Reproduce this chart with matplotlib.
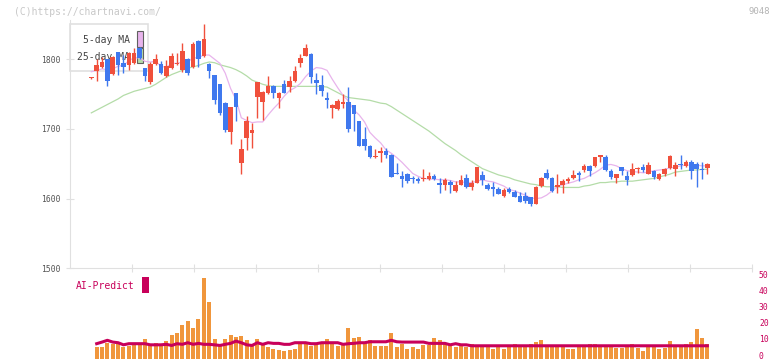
import matplotlib.pyplot as plt
from matplotlib.patches import Rectangle
from matplotlib.transforms import blended_transform_factory, ScaledTranslation
import numpy as np

# daily candles, 2/25 .. 8/13 (trading days)
opens = [1773, 1783, 1789, 1800, 1779, 1810, 1794, 1792, 1794, 1816,
         1787, 1767, 1793, 1793, 1776, 1787, 1793, 1784, 1800, 1789,
         1826, 1804, 1793, 1777, 1764, 1737, 1695, 1751, 1651, 1687,
         1694, 1746, 1739, 1752, 1762, 1745, 1764, 1760, 1769, 1795,
         1805, 1808, 1770, 1763, 1745, 1730, 1728, 1736, 1739, 1734,
         1711, 1686, 1676, 1659, 1666, 1668, 1663, 1637, 1632, 1636,
         1630, 1628, 1628, 1628, 1632, 1623, 1620, 1624, 1611, 1620,
         1630, 1616, 1623, 1634, 1619, 1617, 1614, 1604, 1614, 1610,
         1604, 1604, 1602, 1592, 1618, 1637, 1630, 1617, 1619, 1625,
         1629, 1637, 1641, 1647, 1647, 1659, 1659, 1640, 1629, 1645,
         1632, 1634, 1643, 1646, 1636, 1639, 1628, 1636, 1644, 1643,
         1649, 1647, 1653, 1650, 1643, 1644]
highs = [1774, 1800, 1803, 1801, 1804, 1811, 1806, 1810, 1816, 1818,
         1788, 1796, 1807, 1797, 1799, 1809, 1809, 1823, 1802, 1824,
         1827, 1850, 1794, 1778, 1765, 1738, 1732, 1752, 1685, 1718,
         1709, 1767, 1754, 1776, 1763, 1753, 1770, 1776, 1790, 1808,
         1822, 1809, 1780, 1778, 1753, 1736, 1743, 1750, 1760, 1735,
         1712, 1703, 1677, 1671, 1674, 1672, 1664, 1651, 1640, 1637,
         1633, 1631, 1642, 1638, 1636, 1629, 1629, 1626, 1625, 1634,
         1635, 1627, 1646, 1639, 1622, 1624, 1616, 1615, 1616, 1612,
         1609, 1609, 1603, 1618, 1631, 1642, 1631, 1635, 1628, 1631,
         1641, 1640, 1650, 1648, 1660, 1663, 1663, 1642, 1636, 1646,
         1639, 1651, 1645, 1649, 1652, 1641, 1637, 1644, 1662, 1652,
         1662, 1655, 1655, 1653, 1653, 1651]
lows = [1772, 1769, 1788, 1761, 1778, 1778, 1780, 1784, 1793, 1801,
        1769, 1765, 1792, 1779, 1775, 1786, 1792, 1782, 1778, 1788,
        1789, 1803, 1773, 1736, 1720, 1695, 1678, 1712, 1636, 1670,
        1672, 1715, 1713, 1750, 1745, 1730, 1751, 1753, 1768, 1789,
        1804, 1766, 1750, 1747, 1730, 1715, 1727, 1730, 1696, 1697,
        1675, 1670, 1658, 1658, 1653, 1658, 1631, 1635, 1617, 1622,
        1622, 1623, 1625, 1627, 1627, 1608, 1613, 1608, 1610, 1619,
        1615, 1612, 1622, 1620, 1613, 1604, 1606, 1602, 1608, 1602,
        1595, 1593, 1590, 1592, 1617, 1628, 1610, 1608, 1608, 1623,
        1628, 1625, 1638, 1633, 1646, 1652, 1640, 1628, 1623, 1634,
        1619, 1632, 1637, 1638, 1635, 1628, 1626, 1633, 1643, 1633,
        1643, 1645, 1628, 1617, 1628, 1636]
closes = [1773, 1791, 1796, 1769, 1803, 1791, 1789, 1809, 1809, 1802,
          1776, 1793, 1800, 1780, 1790, 1804, 1794, 1812, 1780, 1822,
          1800, 1829, 1783, 1742, 1723, 1698, 1731, 1731, 1671, 1712,
          1698, 1767, 1753, 1762, 1751, 1752, 1752, 1769, 1783, 1802,
          1816, 1774, 1766, 1755, 1741, 1734, 1740, 1739, 1700, 1721,
          1676, 1676, 1659, 1661, 1669, 1662, 1631, 1635, 1628, 1625,
          1628, 1625, 1630, 1632, 1628, 1619, 1626, 1620, 1620, 1627,
          1616, 1622, 1645, 1627, 1614, 1614, 1607, 1613, 1610, 1603,
          1595, 1596, 1592, 1617, 1630, 1629, 1611, 1619, 1625, 1628,
          1634, 1634, 1647, 1640, 1659, 1662, 1641, 1631, 1635, 1639,
          1627, 1643, 1644, 1641, 1648, 1631, 1636, 1643, 1661, 1648,
          1648, 1652, 1639, 1642, 1641, 1650]

ma5 = [1782, 1784, 1786, 1785, 1786, 1790, 1791, 1798, 1802, 1802,
       1797, 1796, 1797, 1790, 1788, 1794, 1794, 1796, 1796, 1802,
       1802, 1806, 1806, 1800, 1794, 1780, 1758, 1742, 1716, 1712,
       1709, 1710, 1710, 1720, 1729, 1737, 1747, 1755, 1759, 1765,
       1775, 1783, 1788, 1787, 1784, 1771, 1759, 1748, 1740, 1727,
       1720, 1710, 1695, 1687, 1680, 1670, 1665, 1659, 1652, 1644,
       1636, 1632, 1629, 1628, 1628, 1627, 1627, 1626, 1624, 1624,
       1623, 1623, 1625, 1627, 1625, 1624, 1621, 1618, 1613, 1611,
       1608, 1605, 1601, 1600, 1601, 1605, 1611, 1617, 1620, 1622,
       1624, 1627, 1629, 1633, 1637, 1642, 1648, 1649, 1647, 1643,
       1640, 1639, 1638, 1637, 1638, 1640, 1641, 1642, 1644, 1645,
       1647, 1648, 1648, 1648, 1647, 1647]
ma25 = [1723, 1727, 1731, 1735, 1739, 1743, 1748, 1751, 1754, 1756,
        1758, 1760, 1764, 1769, 1774, 1778, 1781, 1784, 1787, 1789,
        1791, 1794, 1796, 1795, 1792, 1790, 1788, 1785, 1781, 1776,
        1770, 1767, 1764, 1762, 1761, 1761, 1761, 1761, 1761, 1761,
        1761, 1761, 1761, 1761, 1760, 1756, 1752, 1748, 1745, 1744,
        1743, 1742, 1741, 1739, 1737, 1736, 1732, 1727, 1722, 1717,
        1712, 1707, 1702, 1697, 1691, 1685, 1679, 1674, 1669, 1663,
        1658, 1653, 1648, 1643, 1640, 1637, 1634, 1632, 1630, 1627,
        1625, 1623, 1621, 1620, 1618, 1617, 1617, 1617, 1616, 1616,
        1616, 1616, 1618, 1619, 1621, 1623, 1623, 1624, 1624, 1625,
        1625, 1625, 1626, 1627, 1628, 1629, 1631, 1633, 1635, 1638,
        1639, 1640, 1641, 1641, 1642, 1642]

# volume (first day has none)
volume = [np.nan, 7.1, 7.1, 9.8, 8.8, 9.8, 7.1, 7.7, 9.8, 8.8,
          11.9, 8.1, 9.8, 7.7, 10.8, 14.4, 15.6, 20.6, 23.1, 18.8,
          24.4, 50.0, 35.0, 11.9, 8.1, 11.9, 14.4, 13.1, 13.8, 11.3,
          8.1, 11.9, 8.8, 7.1, 5.6, 5.2, 4.4, 5.2, 5.6, 9.8,
          8.8, 7.7, 8.8, 9.8, 11.9, 9.8, 7.7, 8.8, 18.8, 12.5,
          13.1, 9.8, 11.3, 7.7, 7.7, 7.7, 15.6, 7.1, 9.3, 5.6,
          7.1, 5.6, 8.1, 8.1, 12.5, 11.3, 9.8, 8.1, 7.1, 7.7,
          7.1, 9.2, 7.7, 7.1, 7.1, 5.6, 7.1, 5.6, 7.7, 9.2,
          7.7, 7.1, 9.2, 10.2, 11.3, 7.7, 7.1, 7.1, 7.1, 5.6,
          5.6, 7.1, 7.7, 9.2, 9.2, 7.1, 7.1, 7.1, 6.3, 6.3,
          7.7, 9.2, 6.3, 4.4, 7.1, 7.1, 5.6, 6.3, 10.6, 7.7,
          7.1, 9.2, 10.2, 18.1, 12.5, 8.8]
ai_predict = [np.nan, 9.2, 10.2, 11.3, 10.2, 9.8, 8.5, 9.2, 9.2, 9.2,
              9.2, 8.5, 8.5, 8.5, 8.8, 8.1, 9.2, 8.8, 9.8, 8.8,
              9.4, 8.8, 8.8, 8.5, 8.1, 8.8, 9.4, 10.8, 9.8, 8.5,
              8.1, 9.8, 8.8, 9.8, 9.4, 9.4, 8.8, 8.8, 9.8, 9.8,
              9.8, 9.2, 9.2, 9.8, 9.8, 9.8, 9.8, 8.8, 9.2, 9.4,
              9.8, 9.8, 10.4, 10.4, 10.4, 10.4, 11.3, 10.4, 10.2, 10.2,
              10.2, 10.2, 10.2, 9.4, 9.4, 9.4, 9.4, 8.5, 9.2, 8.5,
              8.5, 7.9, 7.9, 7.9, 7.9, 7.9, 7.9, 7.9, 7.9, 7.9,
              7.9, 7.9, 7.9, 7.9, 7.9, 7.9, 7.9, 7.9, 7.9, 7.9,
              7.9, 7.9, 7.9, 7.9, 7.9, 7.9, 7.9, 7.9, 7.9, 7.9,
              7.9, 7.9, 7.9, 7.9, 7.9, 7.9, 7.9, 7.9, 7.9, 7.9,
              7.9, 7.9, 7.9, 7.9, 7.9, 7.9]

date_idx = [15, 25, 35, 45, 55, 65, 75, 85, 95, 105, 115]
date_labels = ['3/18', '4/2', '4/16', '5/1', '5/19', '6/2', '6/16',
               '6/30', '7/14', '7/29', '8/13']
price_ticks = [1500, 1600, 1700, 1800]
vol_ticks = [0, 10, 20, 30, 40, 50]

UP = '#f0503c'
DOWN = '#3f78ee'
GRID = '#e0e0e0'
CRIMSON = '#c8005a'
MONO = 'DejaVu Sans Mono'

W, H = 772, 361
fig = plt.figure(figsize=(W / 100, H / 100), dpi=100)


def fx(x):
    return x / W


def fy(y):
    return 1 - y / H


# main price panel
ax = fig.add_axes([fx(70), fy(268.3), fx(752) - fx(70), fy(20) - fy(268.3)])
xmin, xmax = -3.98, 123.33
ax.set_xlim(xmin, xmax)
ax.set_ylim(1500, 1500 + (268.3 - 20) / 0.697)
for s in ['top', 'right']:
    ax.spines[s].set_visible(False)
for s in ['left', 'bottom']:
    ax.spines[s].set_color(GRID)
ax.set_yticks(price_ticks)
ax.set_yticklabels([str(v) for v in price_ticks], fontsize=5.8, family=MONO,
                   color='#555555')
ax.tick_params(axis='y', direction='inout', length=6, color=GRID, pad=4)
ax.set_xticks([xmin + k * (xmax - xmin) / 11 for k in range(1, 12)])
ax.set_xticklabels([])
ax.tick_params(axis='x', direction='inout', length=6, color=GRID)

idx = np.arange(len(closes))
o = np.array(opens, float)
c = np.array(closes, float)
h = np.array(highs, float)
l = np.array(lows, float)
col = [UP if cc >= oo else DOWN for oo, cc in zip(o, c)]

ax.plot(idx, ma25, color='#b4dca8', lw=0.9, zorder=2)
ax.plot(idx, ma5, color='#e8b4ec', lw=0.9, zorder=2)
ax.vlines(idx, l, h, colors=col, lw=1.0, zorder=3)
body = np.maximum(np.abs(c - o), 1.3)
ax.bar(idx, body, bottom=np.minimum(o, c), width=0.85, color=col,
       lw=0, zorder=4)

# legend box (drawn under the candles)
ax.add_patch(Rectangle((fx(70), fy(71)), fx(148) - fx(70), fy(24) - fy(71),
                       transform=fig.transFigure, facecolor='white',
                       edgecolor=GRID, lw=1.2, zorder=1, clip_on=False))
ax.text(fx(130), fy(40), '5-day MA', transform=fig.transFigure, ha='right',
        va='center', fontsize=7, family=MONO, color='#444444', zorder=1.5)
ax.text(fx(130), fy(57), '25-day MA', transform=fig.transFigure, ha='right',
        va='center', fontsize=7, family=MONO, color='#444444', zorder=1.5)
ax.add_patch(Rectangle((fx(137), fy(47)), fx(143) - fx(137), fy(31) - fy(47),
                       transform=fig.transFigure, facecolor='#e8b4ec',
                       edgecolor='#606060', lw=0.8, zorder=1.5, clip_on=False))
ax.add_patch(Rectangle((fx(137), fy(63)), fx(143) - fx(137), fy(48) - fy(63),
                       transform=fig.transFigure, facecolor='#b4dca8',
                       edgecolor='#606060', lw=0.8, zorder=1.5, clip_on=False))

# date labels below the price panel
tr = blended_transform_factory(ax.transData, fig.transFigure)
for i, t in zip(date_idx, date_labels):
    ax.text(i, fy(282), t, transform=tr, ha='center', va='center',
            fontsize=5.8, family=MONO, color='#555555', clip_on=False)

# volume / AI-Predict panel
av = fig.add_axes([fx(70), fy(358.5), fx(752) - fx(70), fy(278) - fy(358.5)])
av.set_xlim(xmin, xmax)
av.set_ylim(0, 50)
for s in av.spines.values():
    s.set_visible(False)
av.set_xticks([])
av.yaxis.tick_right()
av.set_yticks(vol_ticks)
av.set_yticklabels([str(v) for v in vol_ticks], fontsize=5.8, family=MONO,
                   color=CRIMSON)
av.tick_params(axis='y', length=0, pad=5)
lift = ScaledTranslation(0, 2.5 / 72, fig.dpi_scale_trans)
for lab in av.get_yticklabels():
    lab.set_transform(lab.get_transform() + lift)
av.bar(idx, volume, width=0.75, color='#f0963c', lw=0, zorder=2)
av.plot(idx, ai_predict, color=CRIMSON, lw=2.2, zorder=3)

fig.text(fx(75.5), fy(286), 'AI-Predict', ha='left', va='center', fontsize=7,
         family=MONO, color=CRIMSON)
fig.patches.append(Rectangle((fx(142), fy(293)), fx(149) - fx(142),
                             fy(277) - fy(293), transform=fig.transFigure,
                             facecolor=CRIMSON, lw=0))

fig.text(fx(14), fy(12), '(C)https://chartnavi.com/', ha='left', va='center',
         fontsize=7, family=MONO, color='#c8c8c8')
fig.text(fx(770), fy(12), '9048', ha='right', va='center', fontsize=6.5,
         family=MONO, color='#b4b4b4')

fig.savefig('out.png', dpi=100)
plt.close(fig)
